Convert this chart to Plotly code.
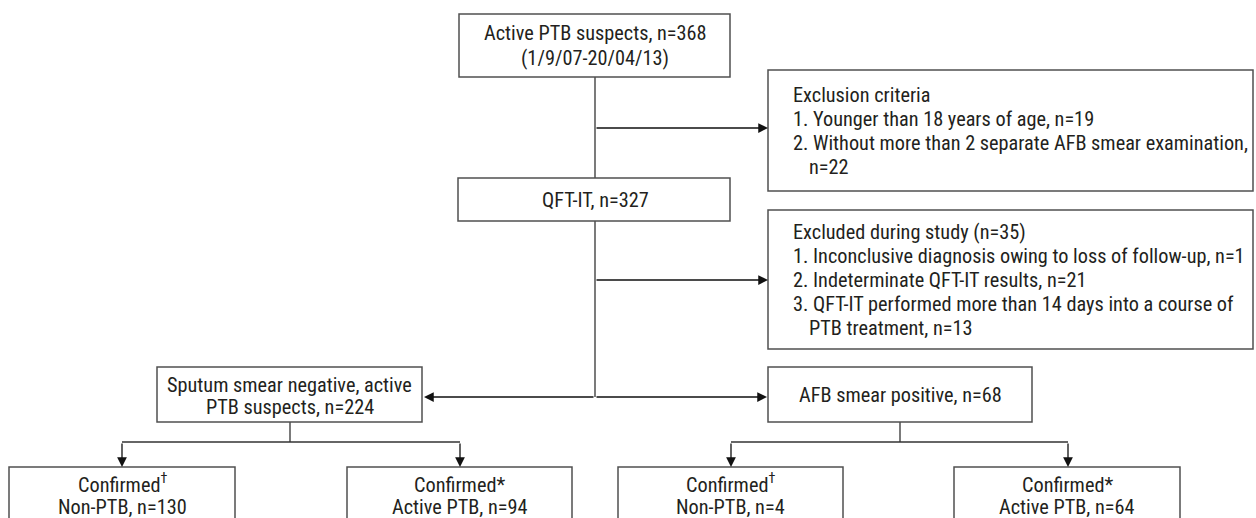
import plotly.graph_objects as go

# ---------------- data ----------------
screened_n = 368
screened_period = "1/9/07-20/04/13"
qft_n = 327
excl_criteria_labels = ["Younger than 18 years of age", "Without more than 2 separate AFB smear examination"]
excl_criteria_counts = [19, 22]
excl_study_total = 35
excl_study_labels = ["Inconclusive diagnosis owing to loss of follow-up",
                     "Indeterminate QFT-IT results",
                     "QFT-IT performed more than 14 days into a course of PTB treatment"]
excl_study_counts = [1, 21, 13]
smear_groups = ["Sputum smear negative, active PTB suspects", "AFB smear positive"]
smear_counts = [224, 68]
outcome_labels = ["Non-PTB", "Active PTB", "Non-PTB", "Active PTB"]
outcome_marks = ["†", "*", "†", "*"]
outcome_counts = [130, 94, 4, 64]

# ---------------- layout (pixel space) ----------------
W, H = 1256, 518
FONT = "Roboto Condensed, Liberation Sans Narrow, Roboto, sans-serif"
FS = 20.3
TXT = "#231f20"
BOX_C = "#505050"
LINE_C = "#333333"

shapes = []
annotations = []

def rect(x0, y0, x1, y1):
    shapes.append(dict(type="rect", xref="x", yref="y", x0=x0, y0=y0, x1=x1, y1=y1,
                       line=dict(color=BOX_C, width=1.5), fillcolor="white", layer="above"))

def open_box(x0, y0, x1):
    shapes.append(dict(type="path", xref="x", yref="y",
                       path=f"M {x0},{H+5} L {x0},{y0} L {x1},{y0} L {x1},{H+5}",
                       line=dict(color=BOX_C, width=1.5), layer="above"))

def line(x0, y0, x1, y1):
    shapes.append(dict(type="line", xref="x", yref="y", x0=x0, y0=y0, x1=x1, y1=y1,
                       line=dict(color=LINE_C, width=1.3), layer="below"))

def arrow(x0, y0, x1, y1):
    annotations.append(dict(x=x1, y=y1, ax=x0, ay=y0, xref="x", yref="y", axref="x", ayref="y",
                            text="", showarrow=True, arrowhead=2, arrowsize=1.5, arrowwidth=1.3,
                            arrowcolor="#111111", standoff=0, startstandoff=0))

def text(x, y, s, align="center"):
    annotations.append(dict(x=x, y=y, xref="x", yref="y", text=s, showarrow=False,
                            xanchor="left" if align == "left" else "center", yanchor="middle",
                            borderpad=0,
                            font=dict(family=FONT, size=FS, color=TXT)))

# connectors
cx = 595
line(cx, 77, cx, 397)
arrow(cx, 128, 768, 128)
arrow(cx, 280, 768, 280)
arrow(cx, 397, 424, 397)
arrow(cx, 397, 767, 397)

for sx, (lx, rx) in [(290, (122, 460)), (900, (731, 1068))]:
    line(sx, 422, sx, 442)
    line(lx, 442, rx, 442)
    arrow(lx, 442, lx, 467)
    arrow(rx, 442, rx, 467)

# boxes and texts
rect(459, 14, 730, 77)
text(cx, 33, f"Active PTB suspects, n={screened_n}")
text(cx, 58, f"({screened_period})")

rect(768, 70, 1253, 191)
tx = 792
text(tx, 95, "Exclusion criteria", "left")
text(tx, 119, f"1. {excl_criteria_labels[0]}, n={excl_criteria_counts[0]}", "left")
text(tx, 143, f"2. {excl_criteria_labels[1]},", "left")
text(tx + 16, 167, f"n={excl_criteria_counts[1]}", "left")

rect(458, 178, 730, 221)
text(cx, 200, f"QFT-IT, n={qft_n}")

rect(768, 210, 1253, 349)
text(tx, 232, f"Excluded during study (n={excl_study_total})", "left")
text(tx, 256, f"1. {excl_study_labels[0]}, n={excl_study_counts[0]}", "left")
text(tx, 280, f"2. {excl_study_labels[1]}, n={excl_study_counts[1]}", "left")
text(tx, 304, "3. QFT-IT performed more than 14 days into a course of", "left")
text(tx + 16, 328, f"PTB treatment, n={excl_study_counts[2]}", "left")

rect(157, 367, 422, 422)
text(289.5, 384.5, "Sputum smear negative, active")
text(289.5, 407, f"PTB suspects, n={smear_counts[0]}")

rect(768, 367, 1032, 422)
text(900, 395, f"{smear_groups[1]}, n={smear_counts[1]}")

bottom = [(9, 235), (347, 572), (618, 843), (954, 1180)]
for (x0, x1), lab, mk, n in zip(bottom, outcome_labels, outcome_marks, outcome_counts):
    open_box(x0, 467, x1)
    xc = (x0 + x1) / 2
    if mk == "†":
        text(xc, 483.5, "Confirmed<sup>†</sup>")
    else:
        text(xc, 484.5, "Confirmed*")
    text(xc, 506.5, f"{lab}, n={n}")

fig = go.Figure()
fig.update_layout(
    width=W, height=H, margin=dict(l=0, r=0, t=0, b=0),
    paper_bgcolor="white", plot_bgcolor="white",
    xaxis=dict(range=[0, W], visible=False, fixedrange=True),
    yaxis=dict(range=[H, 0], visible=False, fixedrange=True),
    shapes=shapes, annotations=annotations, showlegend=False,
)
fig.write_html("out.html", config={"displayModeBar": False},
               post_script="document.body.style.margin='0';")
